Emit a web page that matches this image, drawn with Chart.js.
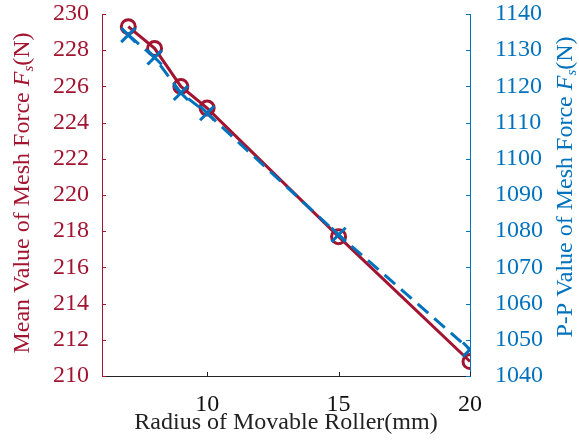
<!DOCTYPE html>
<html>
<head>
<meta charset="utf-8">
<script src="https://cdn.jsdelivr.net/npm/chart.js@4"></script>
<style>
  html, body { margin: 0; padding: 0; background: #fff; }
  #wrap { width: 579px; height: 444px; }
</style>
</head>
<body>
<div id="wrap"><canvas id="c"></canvas></div>
<script>
// radius of movable roller (mm)
const radius = [7, 8, 9, 10, 15, 20];
// mean value of mesh force (N), left axis
const meanForce = [229.3, 228.1, 226.0, 224.8, 217.7, 210.8];
// peak-to-peak value of mesh force (N), right axis
const ppForce = [1134.2, 1128.0, 1118.2, 1112.6, 1079.0, 1047.3];
const xTicks = [10, 15, 20];

const RED = "#A2142F";
const BLUE = "#0072BD";
const FONT = "'Liberation Serif', 'Times New Roman', serif";

function pts(xs, ys) {
  return xs.map((x, i) => ({ x: x, y: ys[i] }));
}

// axis titles with italic F and subscript s, plus inward tick marks
const extras = {
  id: "extras",
  afterDraw(chart) {
    const ctx = chart.ctx;
    const area = chart.chartArea;
    const sx = chart.scales.x, yl = chart.scales.y, yr = chart.scales.y2;

    ctx.save();
    ctx.lineWidth = 1;
    ctx.strokeStyle = RED;
    yl.ticks.forEach((t, i) => {
      const p = Math.round(yl.getPixelForTick(i)) + 0.5;
      ctx.beginPath(); ctx.moveTo(area.left, p); ctx.lineTo(area.left + 4, p); ctx.stroke();
    });
    ctx.strokeStyle = BLUE;
    yr.ticks.forEach((t, i) => {
      const p = Math.round(yr.getPixelForTick(i)) + 0.5;
      ctx.beginPath(); ctx.moveTo(area.right, p); ctx.lineTo(area.right - 4, p); ctx.stroke();
    });
    ctx.strokeStyle = "#222";
    sx.ticks.forEach((t, i) => {
      const p = Math.round(sx.getPixelForTick(i)) + 0.5;
      ctx.beginPath(); ctx.moveTo(p, area.bottom); ctx.lineTo(p, area.bottom - 4); ctx.stroke();
    });

    function title(parts, cx, cy, color) {
      ctx.save();
      ctx.translate(cx, cy);
      ctx.rotate(-Math.PI / 2);
      ctx.fillStyle = color;
      ctx.textBaseline = "middle";
      let w = 0;
      parts.forEach(p => { ctx.font = p.font; w += ctx.measureText(p.text).width; });
      let x = -w / 2;
      parts.forEach(p => {
        ctx.font = p.font;
        ctx.fillText(p.text, x, p.dy || 0);
        x += ctx.measureText(p.text).width;
      });
      ctx.restore();
    }
    function parts(prefix) {
      return [
        { text: prefix + " Value of Mesh Force ", font: "24px " + FONT },
        { text: "F", font: "italic 24px " + FONT },
        { text: "s", font: "italic 15px " + FONT, dy: 6 },
        { text: "(N)", font: "24px " + FONT }
      ];
    }
    title(parts("Mean"), 23, 193, RED);
    title(parts("P-P"), 566, 187, BLUE);
    ctx.restore();
  }
};

function fixY(width) {
  return s => { s.width = width; s.paddingTop = 0; s.paddingBottom = 0; };
}

new Chart(document.getElementById("c"), {
  type: "line",
  data: {
    datasets: [
      {
        label: "Mean",
        data: pts(radius, meanForce),
        yAxisID: "y",
        order: 1,
        borderColor: RED,
        borderWidth: 3,
        pointStyle: "circle",
        pointRadius: 7,
        pointBorderWidth: 3,
        pointBorderColor: RED,
        pointBackgroundColor: "rgba(0,0,0,0)",
        tension: 0
      },
      {
        label: "P-P",
        data: pts(radius, ppForce),
        yAxisID: "y2",
        order: 0,
        borderColor: BLUE,
        borderWidth: 3,
        borderDash: [14, 8],
        pointStyle: "crossRot",
        pointRadius: 10,
        pointBorderWidth: 3,
        pointBorderColor: BLUE,
        tension: 0
      }
    ]
  },
  plugins: [extras],
  options: {
    responsive: true,
    maintainAspectRatio: false,
    animation: false,
    layout: { padding: { left: 0, right: 0, top: 14, bottom: 0 } },
    plugins: { legend: { display: false }, tooltip: { enabled: false } },
    scales: {
      x: {
        type: "linear",
        min: 6, max: 20,
        afterBuildTicks: s => { s.ticks = xTicks.map(v => ({ value: v })); },
        grid: { display: false },
        border: { display: true, color: "#222", width: 1 },
        ticks: { color: "#111", padding: 6, font: { family: FONT, size: 24 } },
        title: { display: true, text: "Radius of Movable Roller(mm)", color: "#222",
                 padding: { top: 0, bottom: 7 }, font: { family: FONT, size: 24 } },
        afterFit: s => { s.height = 68; s.paddingLeft = 0; s.paddingRight = 0; }
      },
      y: {
        position: "left",
        min: 210, max: 230,
        ticks: { stepSize: 2, color: RED, padding: 5, font: { family: FONT, size: 24 } },
        grid: { display: false },
        border: { display: true, color: RED, width: 1 },
        afterFit: fixY(102)
      },
      y2: {
        position: "right",
        min: 1040, max: 1140,
        ticks: { stepSize: 10, color: BLUE, padding: 17, font: { family: FONT, size: 24 },
                 callback: v => String(v) },
        grid: { display: false },
        border: { display: true, color: BLUE, width: 1 },
        afterFit: fixY(109)
      }
    }
  }
});
</script>
</body>
</html>
